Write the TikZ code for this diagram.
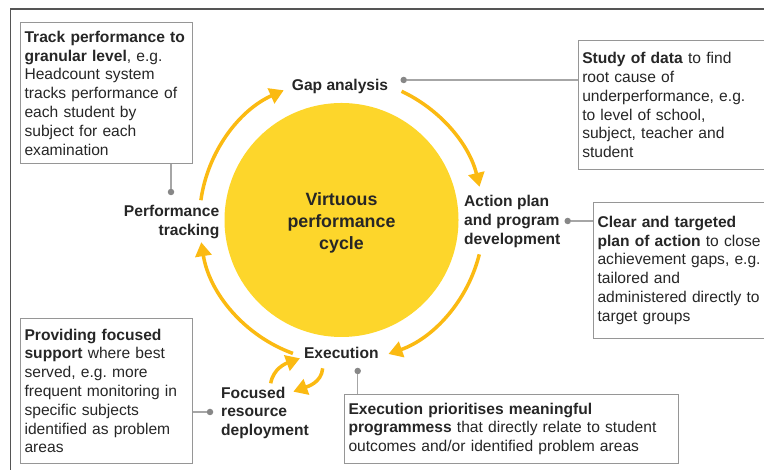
\documentclass[tikz,border=0pt]{standalone}
\usepackage{fontspec}
\setmainfont{Liberation Sans}
\usetikzlibrary{positioning,calc,arrows.meta}
\frenchspacing
\definecolor{cycyellow}{RGB}{253,214,43}
\definecolor{cycorange}{RGB}{251,186,18}
\definecolor{txtgray}{RGB}{38,38,38}
\definecolor{boxgray}{RGB}{150,150,150}
\definecolor{dotgray}{RGB}{135,135,135}
\definecolor{framegray}{RGB}{85,85,85}
\tikzset{gdot/.style={draw=none,circle,fill=dotgray,minimum size=6.5bp,inner sep=0pt}  }
\tikzset{infobox/.style={draw=boxgray,line width=1.1bp,anchor=north west,align=left,inner xsep=4bp,font=\fontsize{15.6bp}{18.8bp}\selectfont,text=txtgray}  }
\tikzset{steplabel/.style={inner sep=0pt,font=\fontsize{15.6bp}{18.8bp}\selectfont\bfseries,text=txtgray}  }
\tikzset{cycarrow/.style={draw=cycorange,line width=3.5bp,-{Triangle[length=14bp,width=16bp]}}  }
\tikzset{lead/.style={draw=boxgray!85,line width=1.1bp}  }

\begin{document}
\begin{tikzpicture}[x=1bp,y=1bp]
		\useasboundingbox (0,0) rectangle (764,470);
		\clip (0,0) rectangle (764,470);
		\draw[framegray,line width=1.5bp] (10.5,-5) -- (10.5,461) -- (770,461);

		% cycle
		\coordinate (c) at (341.5,250);
		\node[circle,fill=cycyellow,minimum size=234bp,inner sep=0pt] (cyc) at (c) {};
		\node[steplabel,font=\fontsize{17.8bp}{22bp}\selectfont\bfseries,align=center,anchor=north] (virt) at (341.5,277.3) {Virtuous\\performance\\cycle};

		\draw[cycarrow] ($(c)+(172:142bp)$) arc[start angle=172,end angle=114,radius=142bp];
		\draw[cycarrow] ($(c)+(65:142bp)$) arc[start angle=65,end angle=13.5,radius=142bp];
		\draw[cycarrow] ($(c)+(-14:142bp)$) arc[start angle=-14,end angle=-70.7,radius=142bp];
		\draw[cycarrow] ($(c)+(-110:142bp)$) arc[start angle=-110,end angle=-171,radius=142bp];

		% stage labels
		\node[steplabel,anchor=base] (gap) at (340,379.5) {Gap analysis};
		\node[steplabel,align=left,anchor=north west] (plan) at (464,275) {Action plan\\and program\\development};
		\node[steplabel,anchor=north] (exec) at (341.3,122.7) {Execution};
		\node[steplabel,align=left,anchor=north west] (focus) at (221,83.3) {Focused\\resource\\deployment};
		\node[steplabel,align=right,anchor=north east] (track) at (219.5,265) {Performance\\tracking};

		\coordinate (fa) at (270.7,86.7);
		\coordinate (fb) at (300,111.7);
		\coordinate (ea) at (322.7,101.7);
		\coordinate (eb) at (293.3,78.3);
		\draw[cycarrow] (fa) to[out=80,in=200] (fb);
		\draw[cycarrow] (ea) to[out=-95,in=20] (eb);

		% call-out boxes
		\node[infobox,text width=163.7bp,minimum height=141bp] (trackbox) at (20,448) {\textbf{Track performance to}\\\textbf{granular level}, e.g.\\Headcount system\\tracks performance of\\each student by\\subject for each\\examination};
		\node[infobox,text width=200bp,minimum height=129bp] (gapbox) at (577.7,430) {\textbf{Study of data} to find\\root cause of\\underperformance, e.g.\\to level of school,\\subject, teacher and\\student};
		\node[infobox,text width=190bp,minimum height=136bp] (planbox) at (593,268.3) {\textbf{Clear and targeted}\\\textbf{plan of action} to close\\achievement gaps, e.g.\\tailored and\\administered directly to\\target groups};
		\node[infobox,text width=163.7bp,minimum height=145.3bp] (focusbox) at (20,152.3) {\textbf{Providing focused}\\\textbf{support} where best\\served, e.g. more\\frequent monitoring in\\specific subjects\\identified as problem\\areas};
		\node[infobox,text width=326bp,minimum height=69.3bp] (execbox) at (344,76.3) {\textbf{Execution prioritises meaningful}\\\textbf{programmess} that directly relate to student\\outcomes and/or identified problem areas};

		% leaders
		\coordinate[gdot] (gapdot) at (403.7,390);
		\coordinate[gdot] (plandot) at (567.7,249);
		\coordinate[gdot] (execdot) at (357.7,99);
		\coordinate[gdot] (focusdot) at (210,58);
		\coordinate[gdot] (trackdot) at (171,278);
		\draw[lead] (gapdot) -- (gapdot -| gapbox.west);
		\draw[lead] (plandot) -- (plandot -| planbox.west);
		\draw[lead] (execdot) -- (execdot |- execbox.north);
		\draw[lead] (focusdot) -- (focusdot -| focusbox.east);
		\draw[lead] (trackdot) -- (trackdot |- trackbox.south);
\end{tikzpicture}
\end{document}
